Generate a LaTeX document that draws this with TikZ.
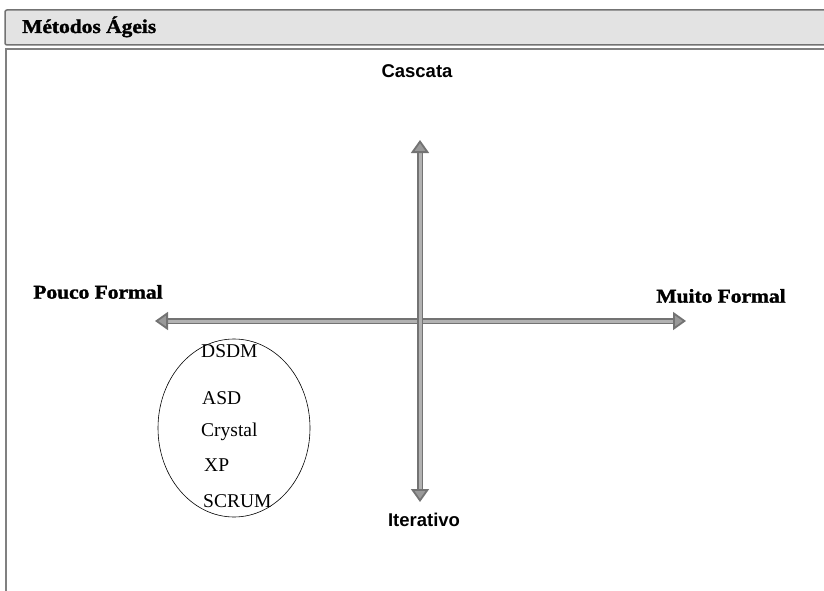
\documentclass[tikz,border=0pt]{standalone}
\usepackage{fontspec}
\setmainfont{Liberation Serif}
\setsansfont{Liberation Sans}
\newfontfamily\slabfont[FakeStretch=1.1, FakeBold=1.5]{Liberation Serif}
\usetikzlibrary{arrows.meta,positioning,shapes.geometric}

\begin{document}
\begin{tikzpicture}[
    x=1pt, y=-1pt,
    axis/.style={draw=black!55, double=black!30, double distance=3pt, line width=1.8pt,
        {Triangle[length=13pt,width=18pt,fill=black!40]}-{Triangle[length=13pt,width=18pt,fill=black!40]}},
    pole/.style={font=\slabfont\bfseries\fontsize{19.5}{21}\selectfont, inner sep=0pt},
    dir/.style={font=\sffamily\bfseries\fontsize{18.5}{20}\selectfont, inner sep=0pt},
    method/.style={font=\fontsize{19.5}{21}\selectfont, inner sep=0pt, anchor=west},
    bar/.style={draw=black!55, line width=1.5pt, fill=black!11, rounded corners=2pt}
]
\useasboundingbox (0,0) rectangle (824,591);

% window frame
\draw[bar] (5,10) rectangle (840,45);
\draw[draw=black!50, line width=2pt] (6,49) rectangle (840,620);
\node[pole, anchor=base west] (title) at (22,33) {Métodos Ágeis};

% axes
\coordinate (west) at (155,321);
\coordinate (east) at (686,321);
\coordinate (north) at (420,140);
\coordinate (south) at (420,502);
\draw[axis] (west) -- (east);
\draw[axis] (north) -- (south);

\node[dir] (cascata) at (417,71) {Cascata};
\node[dir] (iter) at (424,520) {Iterativo};
\node[pole] (pouco) at (98,292) {Pouco Formal};
\node[pole] (muito) at (721,296) {Muito Formal};

% agile methods
\node[draw, ellipse, semithick, minimum width=152pt, minimum height=178pt] (agile) at (234,428) {};
\node[method] (dsdm) at (201,351) {DSDM};
\node[method] (asd) at (202,398) {ASD};
\node[method] (crystal) at (201,432) {Crystal};
\node[method] (xp) at (204,465) {XP};
\node[method] (scrum) at (203,501) {SCRUM};
\end{tikzpicture}
\end{document}
